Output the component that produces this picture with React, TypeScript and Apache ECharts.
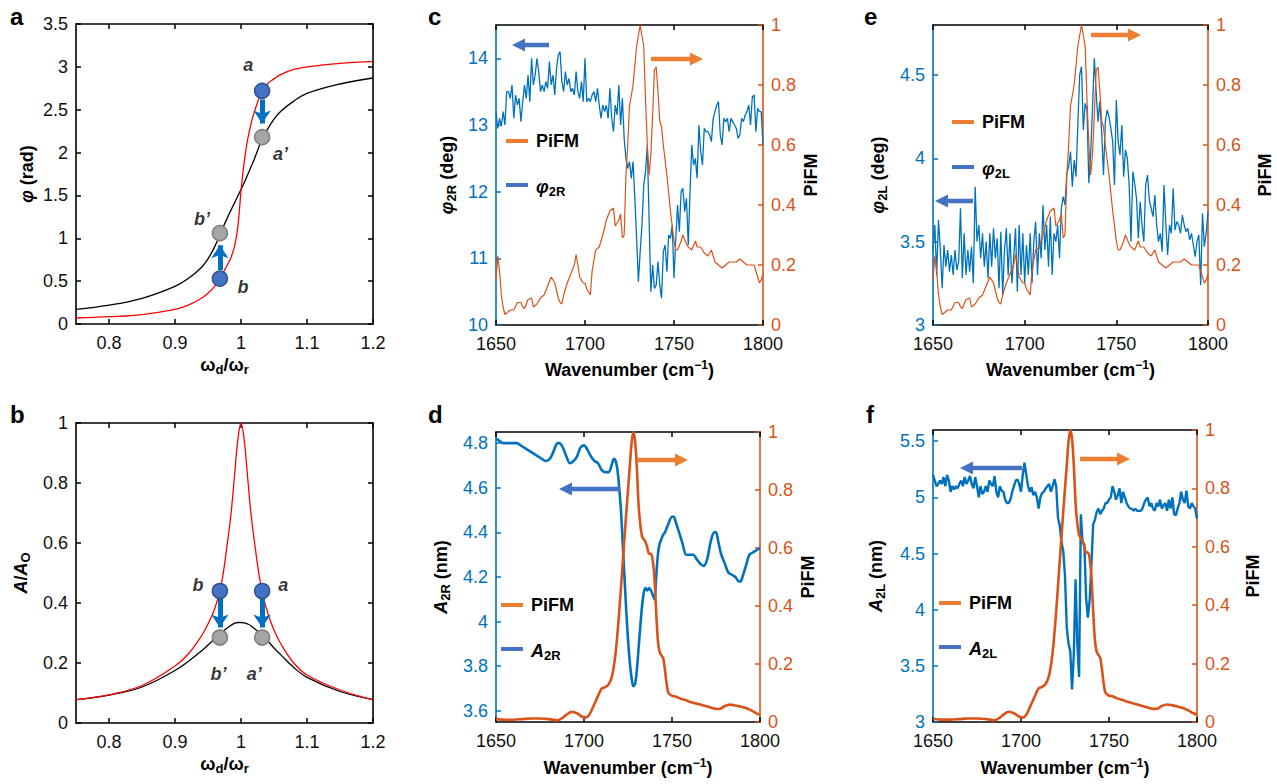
import React, { useEffect, useRef } from 'react';
import * as echarts from 'echarts';

// ---------- panels a & b : normalised drive frequency ----------
const omegaRatio = [0.75, 0.8, 0.85, 0.9, 0.92, 0.94, 0.95, 0.96, 0.97, 0.98, 0.985, 0.99, 0.995, 1.0, 1.005, 1.01, 1.015, 1.02, 1.03, 1.04, 1.05, 1.06, 1.08, 1.1, 1.15, 1.2];
const phaseRed = [0.07, 0.085, 0.11, 0.17, 0.22, 0.3, 0.36, 0.44, 0.56, 0.7, 0.78, 0.9, 1.12, 1.55, 1.9, 2.15, 2.33, 2.47, 2.68, 2.8, 2.86, 2.91, 2.97, 3.0, 3.04, 3.06];
const phaseBlack = [0.17, 0.22, 0.3, 0.44, 0.53, 0.66, 0.76, 0.9, 1.08, 1.25, 1.33, 1.41, 1.49, 1.57, 1.65, 1.74, 1.83, 1.92, 2.12, 2.27, 2.39, 2.48, 2.6, 2.69, 2.8, 2.87];
const ampRed = [0.078, 0.094, 0.125, 0.19, 0.23, 0.29, 0.33, 0.38, 0.46, 0.61, 0.7, 0.82, 0.94, 1.0, 0.94, 0.82, 0.7, 0.61, 0.46, 0.37, 0.31, 0.265, 0.2, 0.16, 0.11, 0.078];
const ampBlack = [0.078, 0.093, 0.12, 0.175, 0.205, 0.24, 0.26, 0.28, 0.3, 0.318, 0.326, 0.332, 0.335, 0.335, 0.334, 0.33, 0.324, 0.315, 0.297, 0.275, 0.25, 0.228, 0.185, 0.152, 0.105, 0.078];

// marker points [x, y]
const phaseBlueDots = [[1.032, 2.72], [0.968, 0.53]];
const phaseGrayDots = [[1.032, 2.18], [0.968, 1.06]];
const ampBlueDots = [[0.968, 0.44], [1.032, 0.44]];
const ampGrayDots = [[0.968, 0.285], [1.032, 0.285]];
const phaseArrows = [[[1.032, 2.62], [1.032, 2.34]], [[0.968, 0.63], [0.968, 0.92]]];
const ampArrows = [[[0.968, 0.415], [0.968, 0.318]], [[1.032, 0.415], [1.032, 0.318]]];
const phaseLabels = [{ name: 'a', value: [1.011, 3.02] }, { name: 'a\u2019', value: [1.06, 1.98] }, { name: 'b\u2019', value: [0.941, 1.22] }, { name: 'b', value: [1.003, 0.43] }];
const ampLabels = [{ name: 'b', value: [0.935, 0.46] }, { name: 'a', value: [1.064, 0.46] }, { name: 'b\u2019', value: [0.966, 0.165] }, { name: 'a\u2019', value: [1.02, 0.165] }];

// ---------- panels c-f : spectra, 1650..1800 cm-1 at 1 cm-1 steps ----------
const wnStart = 1650;
const phi2R = [
  13.2, 12.95, 13.1, 12.98, 13.2, 13.0, 13.5, 13.5, 13.4, 13.6,
  13.1, 13.45, 13.3, 13.4, 13.05, 13.35, 13.6, 13.4, 13.75, 13.35,
  14.0, 13.6, 13.75, 14.0, 13.8, 13.5, 13.6, 13.5, 13.65, 13.55,
  13.95, 13.6, 13.75, 13.45, 13.85, 14.05, 14.1, 13.65, 13.5, 13.8,
  13.6, 13.7, 13.5, 13.55, 13.45, 13.8, 13.5, 13.4, 13.65, 13.35,
  14.0, 13.35, 13.4, 13.35, 13.45, 13.5, 13.35, 13.55, 13.3, 13.1,
  13.3, 13.2, 13.3, 13.1, 13.55, 13.1, 12.9, 13.3, 13.15, 13.6,
  13.0, 13.4, 12.8, 12.5, 12.35, 12.45, 12.2, 12.45, 11.9, 11.3,
  10.65, 11.1, 11.5, 12.1, 12.3, 12.7, 11.6, 10.5, 10.9, 10.55,
  10.6, 10.95, 10.6, 10.4, 11.1, 11.2, 10.8, 11.35, 11.3, 11.5,
  10.7, 11.3, 11.8, 11.4, 12.0, 12.05, 11.7, 11.9, 11.2, 12.0,
  12.7, 12.4, 12.5, 12.2, 13.0, 12.6, 12.4, 12.95, 12.9, 12.9,
  12.85, 12.75, 13.1, 13.2, 13.3, 13.35, 12.85, 12.7, 13.1, 13.05,
  13.1, 12.9, 13.1, 13.05, 13.0, 12.95, 12.8, 12.85, 13.1, 13.05,
  13.15, 13.2, 13.3, 13.0, 13.42, 13.45, 12.9, 13.25, 13.2, 13.2,
  12.7,
];
const phi2L = [
  3.45, 3.6, 3.3, 3.63, 3.45, 3.22, 3.48, 3.35, 3.45, 3.32,
  3.42, 3.3, 3.45, 3.33, 3.38, 3.7, 3.28, 3.55, 3.3, 3.45,
  3.32, 3.47, 3.25, 3.83, 3.5, 3.6, 3.4, 3.55, 3.35, 3.5,
  3.28, 3.55, 3.35, 3.58, 3.4, 3.52, 3.22, 3.56, 3.18, 3.45,
  3.58, 3.3, 3.55, 3.25, 3.4, 3.58, 3.2, 3.6, 3.3, 3.55,
  3.25, 3.48, 3.3, 3.55, 3.25, 3.5, 3.62, 3.3, 3.55, 3.4,
  3.72, 3.45, 3.6, 3.35, 3.65, 3.3, 3.55, 3.5, 3.6, 3.4,
  3.7, 3.77, 3.72, 3.91, 3.95, 4.04, 3.83, 3.99, 3.89, 4.2,
  4.5, 4.55, 4.17, 4.33, 4.29, 3.85, 4.03, 4.3, 4.6, 4.4,
  4.22, 4.34, 4.16, 3.9, 4.22, 4.29, 4.25, 4.18, 4.1, 3.84,
  4.35, 4.1, 4.02, 4.2, 3.89, 4.05, 4.0, 3.84, 3.5, 3.92,
  3.85, 3.76, 3.52, 3.74, 3.6, 3.5, 3.84, 3.9, 3.75, 3.7,
  3.65, 3.78, 3.6, 3.5, 3.55, 3.44, 3.84, 3.6, 3.42, 3.6,
  3.55, 3.82, 3.57, 3.62, 3.6, 3.55, 3.66, 3.6, 3.56, 3.58,
  3.51, 3.55, 3.48, 3.41, 3.5, 3.54, 3.24, 3.67, 3.47, 3.55,
  3.68,
];
const A2L = [
  5.2, 5.15, 5.1, 5.12, 5.15, 5.12, 5.18, 5.1, 5.2, 5.15,
  5.05, 5.1, 5.07, 5.1, 5.08, 5.12, 5.15, 5.1, 5.18, 5.12,
  5.15, 5.19, 5.12, 5.08, 5.18, 5.1, 5.0, 5.1, 5.03, 5.05,
  5.1, 5.05, 5.15, 5.12, 5.1, 5.19, 5.05, 5.0, 5.1, 5.06,
  5.05, 4.98, 4.95, 4.95, 4.98, 5.05, 5.1, 5.15, 5.16, 5.12,
  5.05, 5.2, 5.31, 5.2, 5.1, 5.05, 5.09, 5.02, 5.05, 5.0,
  4.9, 5.0, 5.04, 5.05, 5.08, 5.1, 5.12, 5.05, 5.1, 5.16,
  5.1, 4.82, 4.75, 4.6, 4.52, 4.3, 3.84, 3.7, 3.63, 3.29,
  3.6, 4.27, 3.7, 3.4, 4.85, 4.6, 4.58, 4.1, 3.93, 4.08,
  4.4, 4.76, 4.8, 4.87, 4.9, 4.85, 4.88, 4.9, 4.95, 4.95,
  4.98, 5.0, 5.1, 5.05, 4.98, 5.02, 5.08, 4.95, 5.05, 5.0,
  4.95, 4.92, 4.9, 4.9, 4.88, 4.9, 4.88, 4.88, 4.88, 4.9,
  4.95, 4.98, 5.0, 4.92, 4.95, 4.9, 4.88, 4.95, 4.92, 4.98,
  4.9, 4.93, 4.95, 4.88, 4.98, 4.9, 5.0, 4.85, 4.84, 4.9,
  4.95, 5.05, 4.98, 4.95, 5.06, 4.92, 4.9, 4.95, 4.92, 4.9,
  4.81,
];
const A2R = [
  [1650, 4.82], [1652, 4.81], [1654, 4.8], [1656, 4.8], [1658, 4.8], [1660, 4.8], [1662, 4.8], [1664, 4.79],
  [1666, 4.78], [1668, 4.77], [1670, 4.76], [1672, 4.75], [1674, 4.74], [1676, 4.73], [1678, 4.72], [1680, 4.725],
  [1682, 4.75], [1684, 4.79], [1685, 4.8], [1686, 4.8], [1688, 4.78], [1690, 4.74], [1692, 4.71], [1694, 4.72],
  [1696, 4.74], [1698, 4.78], [1700, 4.79], [1702, 4.77], [1704, 4.74], [1706, 4.72], [1708, 4.71], [1710, 4.68],
  [1712, 4.67], [1714, 4.67], [1716, 4.71], [1717, 4.73], [1718, 4.72], [1719, 4.68], [1720, 4.6], [1721, 4.5],
  [1722, 4.35], [1723, 4.2], [1724, 4.05], [1725, 3.92], [1726, 3.82], [1727, 3.75], [1728, 3.71], [1729, 3.72],
  [1730, 3.78], [1731, 3.88], [1732, 3.98], [1733, 4.07], [1734, 4.13], [1735, 4.15], [1736, 4.14], [1737, 4.15],
  [1738, 4.14], [1739, 4.12], [1740, 4.1], [1741, 4.2], [1742, 4.3], [1743, 4.35], [1744, 4.37], [1745, 4.39],
  [1746, 4.4], [1748, 4.44], [1750, 4.47], [1751, 4.47], [1752, 4.45], [1754, 4.4], [1756, 4.35], [1758, 4.3],
  [1760, 4.3], [1762, 4.3], [1764, 4.28], [1766, 4.26], [1768, 4.25], [1770, 4.28], [1772, 4.36], [1774, 4.4],
  [1775, 4.4], [1776, 4.37], [1778, 4.3], [1780, 4.26], [1782, 4.22], [1784, 4.21], [1786, 4.2], [1788, 4.18],
  [1789, 4.18], [1790, 4.2], [1792, 4.25], [1794, 4.3], [1796, 4.31], [1798, 4.32], [1800, 4.33],
];
const pifmNoisy = [
  [1650, 0.15], [1651, 0.23], [1652, 0.18], [1653, 0.1], [1654, 0.06], [1655, 0.035], [1656, 0.04], [1658, 0.05],
  [1660, 0.05], [1662, 0.075], [1664, 0.075], [1665, 0.06], [1666, 0.055], [1668, 0.085], [1670, 0.09], [1671, 0.06],
  [1673, 0.07], [1675, 0.09], [1677, 0.1], [1679, 0.13], [1681, 0.16], [1683, 0.14], [1685, 0.09], [1686, 0.075],
  [1687, 0.07], [1688, 0.1], [1690, 0.14], [1692, 0.17], [1694, 0.2], [1695, 0.235], [1696, 0.2], [1697, 0.16],
  [1698, 0.15], [1699, 0.14], [1700, 0.14], [1701, 0.12], [1702, 0.11], [1703, 0.1], [1704, 0.18], [1706, 0.25],
  [1708, 0.26], [1710, 0.3], [1712, 0.35], [1714, 0.38], [1716, 0.39], [1717, 0.33], [1718, 0.34], [1719, 0.35],
  [1720, 0.37], [1721, 0.29], [1722, 0.3], [1723, 0.5], [1724, 0.6], [1725, 0.73], [1727, 0.8], [1729, 0.93],
  [1731, 1.0], [1733, 0.93], [1734, 0.75], [1735, 0.6], [1736, 0.5], [1737, 0.57], [1738, 0.7], [1739, 0.85],
  [1740, 0.86], [1741, 0.78], [1742, 0.68], [1743, 0.66], [1744, 0.6], [1745, 0.55], [1746, 0.5], [1747, 0.44],
  [1748, 0.38], [1749, 0.33], [1750, 0.28], [1751, 0.25], [1752, 0.25], [1754, 0.28], [1755, 0.3], [1757, 0.27],
  [1758, 0.26], [1760, 0.25], [1762, 0.28], [1763, 0.26], [1765, 0.26], [1767, 0.24], [1769, 0.23], [1771, 0.25],
  [1773, 0.21], [1775, 0.2], [1777, 0.19], [1779, 0.2], [1781, 0.21], [1783, 0.21], [1785, 0.21], [1787, 0.22],
  [1789, 0.21], [1791, 0.2], [1793, 0.2], [1795, 0.2], [1797, 0.16], [1798, 0.14], [1799, 0.15], [1800, 0.17],
];
const pifmSmooth = [
  [1650, 0.01], [1655, 0.008], [1660, 0.008], [1665, 0.01], [1670, 0.012], [1675, 0.012], [1680, 0.01], [1685, 0.006],
  [1688, 0.015], [1690, 0.025], [1693, 0.035], [1696, 0.03], [1699, 0.018], [1701, 0.015], [1703, 0.025], [1705, 0.05],
  [1708, 0.09], [1710, 0.115], [1712, 0.12], [1714, 0.13], [1716, 0.16], [1718, 0.24], [1720, 0.38], [1722, 0.55],
  [1724, 0.72], [1726, 0.88], [1727, 0.96], [1728, 1.0], [1729, 0.97], [1730, 0.88], [1731, 0.75], [1732, 0.68],
  [1733, 0.64], [1734, 0.63], [1735, 0.62], [1736, 0.6], [1737, 0.58], [1738, 0.58], [1739, 0.56], [1740, 0.5],
  [1741, 0.38], [1742, 0.28], [1743, 0.24], [1744, 0.23], [1745, 0.22], [1746, 0.18], [1747, 0.13], [1748, 0.1],
  [1750, 0.09], [1752, 0.088], [1755, 0.08], [1758, 0.075], [1760, 0.07], [1763, 0.065], [1766, 0.06], [1769, 0.055],
  [1772, 0.05], [1775, 0.045], [1777, 0.045], [1780, 0.055], [1783, 0.06], [1786, 0.057], [1789, 0.053], [1792, 0.048],
  [1795, 0.04], [1798, 0.03], [1800, 0.025],
];

// tick labels
const ratioTicks = [0.8, 0.9, 1, 1.1, 1.2];
const phaseTicks = [0, 0.5, 1, 1.5, 2, 2.5, 3, 3.5];
const ampTicks = [0, 0.2, 0.4, 0.6, 0.8, 1];
const wnTicks = [1650, 1700, 1750, 1800];
const pifmTicks = [0, 0.2, 0.4, 0.6, 0.8, 1];
const phi2RTicks = [10, 11, 12, 13, 14];
const A2RTicks = [3.6, 3.8, 4, 4.2, 4.4, 4.6, 4.8];
const phi2LTicks = [3, 3.5, 4, 4.5];
const A2LTicks = [3, 3.5, 4, 4.5, 5, 5.5];

const FONT = "'Liberation Sans', Arial, Helvetica, sans-serif";
const BLUE = '#0072BD';
const ORANGE = '#D95319';
const LEG_BLUE = '#4472C4';
const LEG_ORANGE = '#ED7D31';
const ARROW_BLUE = '#0070C0';

const RICH: any = {
  i: { fontSize: 18, fontWeight: 'bold', fontStyle: 'italic', fontFamily: FONT, lineHeight: 22, color: '#000' },
  sub: { fontSize: 13, fontWeight: 'bold', fontFamily: FONT, verticalAlign: 'bottom', lineHeight: 13, color: '#000' },
  sup: { fontSize: 12, fontWeight: 'bold', fontFamily: FONT, verticalAlign: 'top', lineHeight: 12, color: '#000' },
};
const nameStyle = { fontSize: 18, fontWeight: 'bold', color: '#000', fontFamily: FONT, lineHeight: 22, rich: RICH };
const fmt = (v: number) => String(v);

const toPairs = (vals: number[]) => vals.map((v, i) => [wnStart + i, v]);
const zip = (xs: number[], ys: number[]) => xs.map((x, i) => [x, ys[i]]);

function xAxes(gi: number, min: number, max: number, ticks: number[], name: string, gap: number) {
  return [
    {
      type: 'value', gridIndex: gi, position: 'bottom', min, max,
      axisLine: { show: true, onZero: false, lineStyle: { color: '#000', width: 1.5 } },
      axisTick: { show: true, inside: true, length: 5, customValues: ticks, lineStyle: { color: '#000', width: 1.5 } },
      axisLabel: { show: true, customValues: ticks, formatter: fmt, fontSize: 18, color: '#111', fontFamily: FONT, margin: 10 },
      splitLine: { show: false },
      name, nameLocation: 'middle', nameGap: gap, nameTextStyle: nameStyle,
    },
    {
      type: 'value', gridIndex: gi, position: 'top', min, max,
      axisLine: { show: true, onZero: false, lineStyle: { color: '#000', width: 1.5 } },
      axisTick: { show: true, inside: true, length: 5, customValues: ticks, lineStyle: { color: '#000', width: 1.5 } },
      axisLabel: { show: false },
      splitLine: { show: false },
    },
  ];
}

function yAxis(gi: number, pos: string, min: number, max: number, ticks: number[], color: string, labelColor: string, showLabel: boolean, name: string, gap: number) {
  return {
    type: 'value', gridIndex: gi, position: pos, min, max,
    axisLine: { show: true, onZero: false, lineStyle: { color, width: 1.6 } },
    axisTick: { show: true, inside: true, length: 5, customValues: ticks, lineStyle: { color, width: 1.5 } },
    axisLabel: { show: showLabel, customValues: ticks, formatter: fmt, fontSize: 18, color: labelColor, fontFamily: FONT, margin: 8 },
    splitLine: { show: false },
    name, nameLocation: 'middle', nameRotate: 90, nameGap: gap, nameTextStyle: nameStyle,
  };
}

function arrow(x1: number, y: number, x2: number, color: string) {
  const dir = Math.sign(x2 - x1);
  const headLen = 13;
  const half = 6.5;
  const sx = x2 - dir * headLen;
  return [
    { type: 'line', shape: { x1, y1: y, x2: sx + dir, y2: y }, style: { stroke: color, lineWidth: 4.5 }, z: 20 },
    { type: 'polygon', shape: { points: [[x2, y], [sx, y - half], [sx, y + half]] }, style: { fill: color }, z: 20 },
  ];
}

function legend(x: number, yTop: number, yBot: number, label: string) {
  return [
    { type: 'line', shape: { x1: x, y1: yTop, x2: x + 22, y2: yTop }, style: { stroke: LEG_ORANGE, lineWidth: 4 }, z: 20 },
    { type: 'text', x: x + 30, y: yTop, style: { text: 'PiFM', font: `bold 18px ${FONT}`, fill: '#000', verticalAlign: 'middle', align: 'left' }, z: 20 },
    { type: 'line', shape: { x1: x, y1: yBot, x2: x + 22, y2: yBot }, style: { stroke: LEG_BLUE, lineWidth: 4 }, z: 20 },
    { type: 'text', x: x + 30, y: yBot + 2, style: { text: label, rich: RICH, font: `bold 18px ${FONT}`, fill: '#000', verticalAlign: 'middle', align: 'left' }, z: 20 },
  ];
}

function panelLetter(t: string, x: number, y: number) {
  return { type: 'text', x, y, style: { text: t, font: `bold 24px ${FONT}`, fill: '#000', verticalAlign: 'middle' }, z: 20 };
}

function dotSeries(xi: number, yi: number, data: number[][], fill: string, border: string) {
  return {
    type: 'scatter', xAxisIndex: xi, yAxisIndex: yi, data, symbolSize: 15, z: 5,
    itemStyle: { color: fill, borderColor: border, borderWidth: 1.5, opacity: 1 },
  };
}
function arrowSeries(xi: number, yi: number, segs: number[][][]) {
  return {
    type: 'lines', coordinateSystem: 'cartesian2d', xAxisIndex: xi, yAxisIndex: yi, z: 4,
    data: segs.map((s) => ({ coords: s })),
    symbol: ['none', 'arrow'], symbolSize: 13,
    lineStyle: { color: ARROW_BLUE, width: 5, opacity: 1, curveness: 0 },
  };
}
function labelSeries(xi: number, yi: number, data: any[]) {
  return {
    type: 'scatter', xAxisIndex: xi, yAxisIndex: yi, data, symbolSize: 0, z: 6,
    label: { show: true, position: 'inside', formatter: (p: any) => p.name, fontSize: 18, fontWeight: 'bold', fontStyle: 'italic', color: '#000', fontFamily: FONT },
  };
}
function lineSeries(xi: number, yi: number, data: number[][], color: string, width: number, smooth: boolean | number = false) {
  return {
    type: 'line', xAxisIndex: xi, yAxisIndex: yi, data, showSymbol: false, symbol: 'none', smooth,
    lineStyle: { color, width }, z: 2,
  };
}

export default function App() {
  const ref = useRef<HTMLDivElement>(null);
  useEffect(() => {
    if (!ref.current) return;
    const chart = echarts.init(ref.current, undefined, { renderer: 'svg' });
    const wnName = 'Wavenumber (cm{sup|\u22121})';
    const option: any = {
      animation: false,
      backgroundColor: '#fff',
      textStyle: { fontFamily: FONT },
      grid: [
        { left: 76, top: 24, width: 297, height: 300 },
        { left: 76, top: 423, width: 297, height: 300 },
        { left: 496, top: 25, width: 267, height: 300 },
        { left: 496, top: 432, width: 264, height: 290 },
        { left: 933, top: 25, width: 277, height: 300 },
        { left: 933, top: 430, width: 264, height: 292 },
      ],
      xAxis: [
        ...xAxes(0, 0.75, 1.2, ratioTicks, '\u03c9{sub|d}/\u03c9{sub|r}', 30),
        ...xAxes(1, 0.75, 1.2, ratioTicks, '\u03c9{sub|d}/\u03c9{sub|r}', 30),
        ...xAxes(2, 1650, 1800, wnTicks, wnName, 34),
        ...xAxes(3, 1650, 1800, wnTicks, wnName, 35),
        ...xAxes(4, 1650, 1800, wnTicks, wnName, 34),
        ...xAxes(5, 1650, 1800, wnTicks, wnName, 35),
      ],
      yAxis: [
        yAxis(0, 'left', 0, 3.5, phaseTicks, '#000', '#111', true, '{i|\u03c6} (rad)', 38),
        yAxis(0, 'right', 0, 3.5, phaseTicks, '#000', '#111', false, '', 0),
        yAxis(1, 'left', 0, 1, ampTicks, '#000', '#111', true, '{i|A}/{i|A}{sub|O}', 44),
        yAxis(1, 'right', 0, 1, ampTicks, '#000', '#111', false, '', 0),
        yAxis(2, 'left', 10, 14.5, phi2RTicks, BLUE, BLUE, true, '{i|\u03c6}{sub|2R} (deg)', 38),
        yAxis(2, 'right', 0, 1, pifmTicks, ORANGE, ORANGE, true, 'PiFM', 34),
        yAxis(3, 'left', 3.55, 4.85, A2RTicks, BLUE, BLUE, true, '{i|A}{sub|2R} (nm)', 44),
        yAxis(3, 'right', 0, 1, pifmTicks, ORANGE, ORANGE, true, 'PiFM', 34),
        yAxis(4, 'left', 3, 4.8, phi2LTicks, BLUE, BLUE, true, '{i|\u03c6}{sub|2L} (deg)', 44),
        yAxis(4, 'right', 0, 1, pifmTicks, ORANGE, ORANGE, true, 'PiFM', 46),
        yAxis(5, 'left', 3, 5.6, A2LTicks, BLUE, BLUE, true, '{i|A}{sub|2L} (nm)', 46),
        yAxis(5, 'right', 0, 1, pifmTicks, ORANGE, ORANGE, true, 'PiFM', 45),
      ],
      series: [
        // a
        lineSeries(0, 0, zip(omegaRatio, phaseBlack), '#000', 1.3, 0.4),
        lineSeries(0, 0, zip(omegaRatio, phaseRed), '#FF0000', 1.3, 0.4),
        arrowSeries(0, 0, phaseArrows),
        dotSeries(0, 0, phaseBlueDots, '#4472C4', '#2F528F'),
        dotSeries(0, 0, phaseGrayDots, '#A5A5A5', '#7F7F7F'),
        labelSeries(0, 0, phaseLabels),
        // b
        lineSeries(2, 2, zip(omegaRatio, ampBlack), '#000', 1.3, 0.4),
        lineSeries(2, 2, zip(omegaRatio, ampRed), '#FF0000', 1.3, 0.4),
        arrowSeries(2, 2, ampArrows),
        dotSeries(2, 2, ampBlueDots, '#4472C4', '#2F528F'),
        dotSeries(2, 2, ampGrayDots, '#A5A5A5', '#7F7F7F'),
        labelSeries(2, 2, ampLabels),
        // c
        lineSeries(4, 4, toPairs(phi2R), BLUE, 1.3),
        lineSeries(4, 5, pifmNoisy, ORANGE, 1.2),
        // d
        lineSeries(6, 6, A2R, BLUE, 2.6, 0.3),
        lineSeries(6, 7, pifmSmooth, ORANGE, 2.6, 0.3),
        // e
        lineSeries(8, 8, toPairs(phi2L), BLUE, 1.3),
        lineSeries(8, 9, pifmNoisy, ORANGE, 1.2),
        // f
        lineSeries(10, 10, toPairs(A2L), BLUE, 2.4),
        lineSeries(10, 11, pifmSmooth, ORANGE, 2.6, 0.3),
      ],
      graphic: [
        panelLetter('a', 10, 16),
        panelLetter('b', 10, 414),
        panelLetter('c', 428, 16),
        panelLetter('d', 428, 414),
        panelLetter('e', 864, 16),
        panelLetter('f', 866, 414),
        ...arrow(549, 45, 512, LEG_BLUE),
        ...arrow(651, 59, 703, LEG_ORANGE),
        ...arrow(620, 489, 559, LEG_BLUE),
        ...arrow(637, 460, 688, LEG_ORANGE),
        ...arrow(1091, 35, 1141, LEG_ORANGE),
        ...arrow(973, 201, 935, LEG_BLUE),
        ...arrow(1022, 468, 960, LEG_BLUE),
        ...arrow(1080, 459, 1130, LEG_ORANGE),
        ...legend(506, 141, 185, '{i|\u03c6}{sub|2R}'),
        ...legend(501, 605, 649, '{i|A}{sub|2R}'),
        ...legend(952, 122, 167, '{i|\u03c6}{sub|2L}'),
        ...legend(939, 603, 647, '{i|A}{sub|2L}'),
      ],
    };
    chart.setOption(option);
    return () => chart.dispose();
  }, []);
  return <div ref={ref} style={{ position: 'absolute', left: 0, top: 0, width: 1277, height: 784, background: '#fff' }} />;
}
